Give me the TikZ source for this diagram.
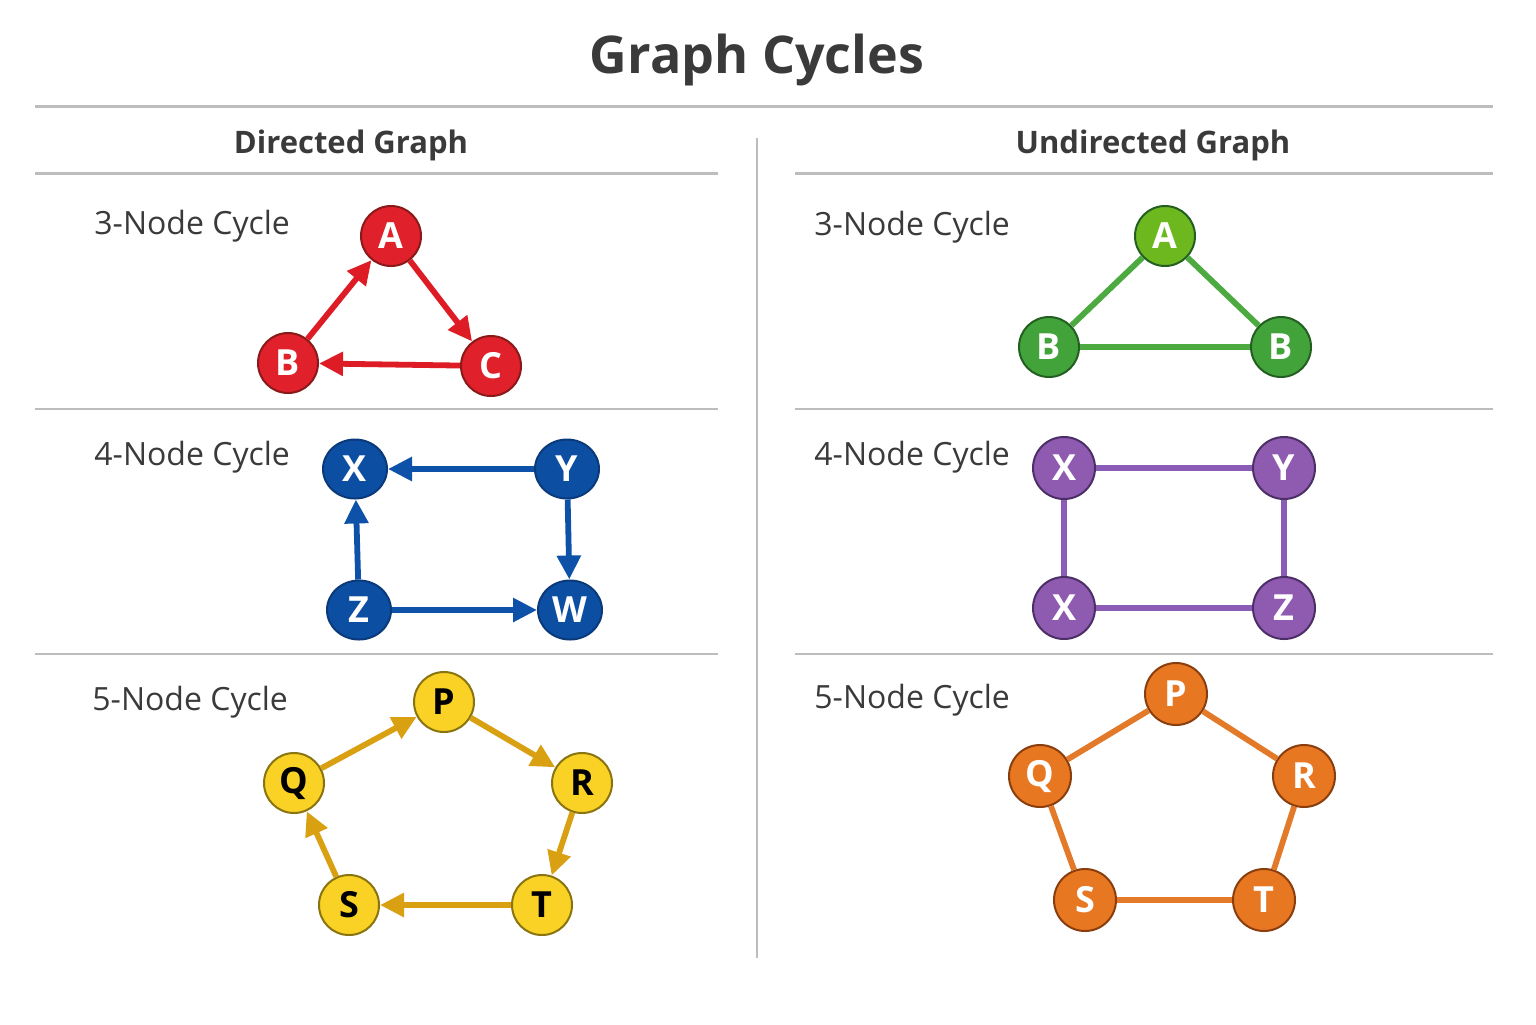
\documentclass[tikz,border=0pt]{standalone}
\usepackage{fontspec}
\setmainfont{Open Sans}
\usetikzlibrary{arrows.meta,shapes.geometric}
\definecolor{txt}{HTML}{3A3A3A}
\definecolor{rule}{HTML}{BDBDBD}
\definecolor{redF}{HTML}{E0202A}\definecolor{redD}{HTML}{8A1A1A}\definecolor{redE}{HTML}{DD1C26}
\definecolor{bluF}{HTML}{0B4EA2}\definecolor{bluD}{HTML}{0A3A7A}\definecolor{bluE}{HTML}{0D52A8}
\definecolor{yelF}{HTML}{F9D225}\definecolor{yelD}{HTML}{8A7410}\definecolor{yelE}{HTML}{D9A012}
\definecolor{grnA}{HTML}{6DB81F}\definecolor{grnF}{HTML}{43A33B}\definecolor{grnD}{HTML}{245F22}\definecolor{grnE}{HTML}{4CAA40}
\definecolor{purF}{HTML}{8E5BB1}\definecolor{purD}{HTML}{4D2E66}\definecolor{purE}{HTML}{8A5CB5}
\definecolor{orgF}{HTML}{E87722}\definecolor{orgD}{HTML}{8A3E0E}\definecolor{orgE}{HTML}{E27A2A}
\tikzset{
  gnode/.style={circle, minimum size=30pt, inner sep=0pt, line width=1pt, font=\fontsize{18}{18}\selectfont\bfseries},
  rnode/.style={gnode, fill=redF, draw=redD, text=white},
  bnode/.style={gnode, ellipse, minimum width=32pt, minimum height=29.5pt, fill=bluF, draw=bluD, text=white},
  ynode/.style={gnode, fill=yelF, draw=yelD, text=black},
  gAnode/.style={gnode, fill=grnA, draw=grnD, text=white},
  gnodeB/.style={gnode, fill=grnF, draw=grnD, text=white},
  pnode/.style={gnode, minimum size=31pt, fill=purF, draw=purD, text=white},
  onode/.style={gnode, minimum size=31pt, fill=orgF, draw=orgD, text=white},
  edge/.style={line width=2.9pt},
  arr/.style={edge, -{Triangle[length=12pt,width=11.5pt]}},
  hrule/.style={draw=rule, line width=1.5pt},
  vrule/.style={draw=rule, line width=1pt},
  cyc/.style={anchor=base west, inner sep=0pt, text=txt, font=\fontsize{16}{16}\selectfont},
  head/.style={anchor=base, inner sep=0pt, text=txt, font=\fontsize{15.5}{15.5}\selectfont\bfseries},
}
\begin{document}
\begin{tikzpicture}[x=0.5pt,y=-0.5pt]
\useasboundingbox (0,0) rectangle (1536,1024);
\fill[white] (0,0) rectangle (1536,1024);
% title and headers
\node[anchor=base, inner sep=0pt, text=txt, font=\fontsize{26}{26}\selectfont\bfseries] (title) at (757,73) {Graph Cycles};
\draw[hrule] (35,106) -- (1493,106);
\node[head] (hd) at (351,153) {Directed Graph};
\node[head] (hu) at (1153,153) {Undirected Graph};
\draw[hrule] (35,173) -- (718,173);
\draw[hrule] (795,173) -- (1493,173);
\draw[vrule] (757,138) -- (757,958);
\draw[hrule, line width=0.8pt] (35,409) -- (718,409);
\draw[hrule, line width=0.8pt] (795,409) -- (1493,409);
\draw[hrule, line width=0.8pt] (35,654) -- (718,654);
\draw[hrule, line width=0.8pt] (795,654) -- (1493,654);
% row labels
\node[cyc] (l1) at (94,234) {3-Node Cycle};
\node[cyc] (l2) at (94,465) {4-Node Cycle};
\node[cyc] (l3) at (92,710) {5-Node Cycle};
\node[cyc] (r1) at (814,235) {3-Node Cycle};
\node[cyc] (r2) at (814,465) {4-Node Cycle};
\node[cyc] (r3) at (814,708) {5-Node Cycle};
% red directed triangle
\node[rnode] (rA) at (391,236) {A};
\node[rnode] (rB) at (288,363) {B};
\node[rnode] (rC) at (491,366) {C};
\draw[arr, draw=redE, fill=redE] (rB) -- (rA);
\draw[arr, draw=redE, fill=redE] (rA) -- (rC);
\draw[arr, draw=redE, fill=redE] (rC) -- (rB);
% blue directed square
\node[bnode] (bX) at (355,469) {X};
\node[bnode] (bY) at (567,469) {Y};
\node[bnode] (bZ) at (359,610) {Z};
\node[bnode] (bW) at (570,610) {W};
\draw[arr, draw=bluE, fill=bluE] (bY) -- (bX);
\draw[arr, draw=bluE, fill=bluE] (bZ) -- (bX);
\draw[arr, draw=bluE, fill=bluE] (bY) -- (bW);
\draw[arr, draw=bluE, fill=bluE] (bZ) -- (bW);
% yellow directed pentagon
\node[ynode] (yP) at (444,702) {P};
\node[ynode] (yQ) at (294,783) {Q};
\node[ynode] (yR) at (582,783) {R};
\node[ynode] (yS) at (349,905) {S};
\node[ynode] (yT) at (542,905) {T};
\draw[arr, draw=yelE, fill=yelE] (yQ) -- (yP);
\draw[arr, draw=yelE, fill=yelE] (yP) -- (yR);
\draw[arr, draw=yelE, fill=yelE] (yR) -- (yT);
\draw[arr, draw=yelE, fill=yelE] (yT) -- (yS);
\draw[arr, draw=yelE, fill=yelE] (yS) -- (yQ);
% green undirected triangle
\node[gAnode] (gA) at (1165,236) {A};
\node[gnodeB] (gB1) at (1049,347) {B};
\node[gnodeB] (gB2) at (1281,347) {B};
\draw[edge, draw=grnE] (gA) -- (gB1);
\draw[edge, draw=grnE] (gA) -- (gB2);
\draw[edge, draw=grnE] (gB1) -- (gB2);
% purple undirected square
\node[pnode] (pX1) at (1064,468) {X};
\node[pnode] (pY) at (1284,468) {Y};
\node[pnode] (pX2) at (1064,608) {X};
\node[pnode] (pZ) at (1284,608) {Z};
\draw[edge, draw=purE] (pX1) -- (pY);
\draw[edge, draw=purE] (pY) -- (pZ);
\draw[edge, draw=purE] (pZ) -- (pX2);
\draw[edge, draw=purE] (pX2) -- (pX1);
% orange undirected pentagon
\node[onode] (oP) at (1176,694) {P};
\node[onode] (oQ) at (1040,776) {Q};
\node[onode] (oR) at (1304,776) {R};
\node[onode] (oS) at (1085,900) {S};
\node[onode] (oT) at (1264,900) {T};
\draw[edge, draw=orgE] (oP) -- (oQ);
\draw[edge, draw=orgE] (oP) -- (oR);
\draw[edge, draw=orgE] (oR) -- (oT);
\draw[edge, draw=orgE] (oT) -- (oS);
\draw[edge, draw=orgE] (oS) -- (oQ);
\end{tikzpicture}
\end{document}
